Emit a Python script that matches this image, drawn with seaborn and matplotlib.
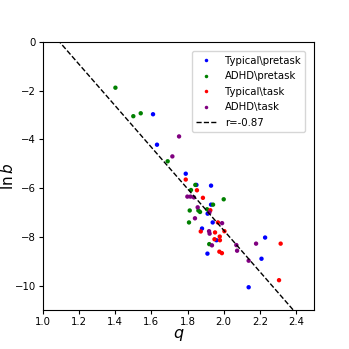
import matplotlib
matplotlib.use("Agg")
import matplotlib.pyplot as plt
import seaborn as sns
import numpy as np
import pandas as pd

groups = ["Typical\\pretask", "ADHD\\pretask", "Typical\\task", "ADHD\\task"]
colors = ["blue", "green", "red", "purple"]

typ_pre_q = [1.609, 1.631, 1.790, 1.849, 1.930, 1.930, 1.911, 1.939, 1.880, 1.960, 1.910, 2.229, 2.209, 2.138]
typ_pre_lnb = [-2.97, -4.22, -5.41, -5.87, -5.90, -6.68, -7.05, -7.41, -7.66, -8.14, -8.69, -8.03, -8.90, -10.07]

adhd_pre_q = [1.401, 1.500, 1.541, 1.690, 1.843, 1.819, 2.000, 1.941, 1.812, 1.860, 1.869, 1.908, 1.808, 1.920]
adhd_pre_lnb = [-1.88, -3.05, -2.93, -4.90, -5.87, -6.08, -6.46, -6.68, -6.92, -6.92, -6.98, -6.87, -7.41, -8.30]

typ_task_q = [1.790, 1.852, 1.885, 1.926, 1.968, 1.873, 1.952, 2.004, 1.978, 1.949, 1.979, 1.976, 1.990, 2.315, 2.306]
typ_task_lnb = [-5.65, -6.09, -6.40, -6.91, -7.41, -7.78, -7.82, -7.77, -7.99, -8.10, -8.14, -8.61, -8.67, -8.28, -9.78]

adhd_task_q = [1.753, 1.716, 1.799, 1.816, 1.835, 1.856, 1.921, 1.841, 1.991, 1.919, 1.922, 1.935, 2.070, 2.074, 2.179, 2.138]
adhd_task_lnb = [-3.88, -4.70, -6.35, -6.35, -6.38, -6.79, -7.00, -7.24, -7.44, -7.77, -7.87, -8.35, -8.34, -8.57, -8.28, -8.98]

fit_slope = -8.51
fit_intercept = 9.29
fit_label = "r=-0.87"

xticks = [1.0, 1.2, 1.4, 1.6, 1.8, 2.0, 2.2, 2.4]
yticks = [0, -2, -4, -6, -8, -10]

frames = []
for g, qs, ys in zip(groups,
                     [typ_pre_q, adhd_pre_q, typ_task_q, adhd_task_q],
                     [typ_pre_lnb, adhd_pre_lnb, typ_task_lnb, adhd_task_lnb]):
    frames.append(pd.DataFrame({"q": qs, "lnb": ys, "group": g}))
df = pd.concat(frames, ignore_index=True)

fig = plt.figure(figsize=(3.49, 3.49), dpi=100)
ax = fig.add_axes([0.123, 0.112, 0.777, 0.768])

sns.scatterplot(data=df, x="q", y="lnb", hue="group", hue_order=groups,
                palette=colors, s=10, linewidth=0, ax=ax)

xs = np.array([1.0, 2.5])
ax.plot(xs, fit_intercept + fit_slope * xs, "k--", lw=1.0, label=fit_label)

ax.set_xlim(1.0, 2.5)
ax.set_ylim(-11, 0)
ax.set_xticks(xticks)
ax.set_yticks(yticks)
ax.tick_params(labelsize=7.3, length=3, pad=2)
ax.set_xlabel(r"$q$", fontsize=11.5)
ax.set_ylabel(r"$\ln b$", fontsize=11)
ax.yaxis.set_label_coords(-0.1, 0.5)
ax.xaxis.set_label_coords(0.5, -0.065)

handles, labels = ax.get_legend_handles_labels()
ax.legend(handles, labels, loc="upper right", fontsize=7.3, markerscale=0.8,
          handlelength=2.0, borderpad=0.45, labelspacing=0.55,
          bbox_to_anchor=(0.985, 0.985))

fig.savefig("out.png", dpi=100)
